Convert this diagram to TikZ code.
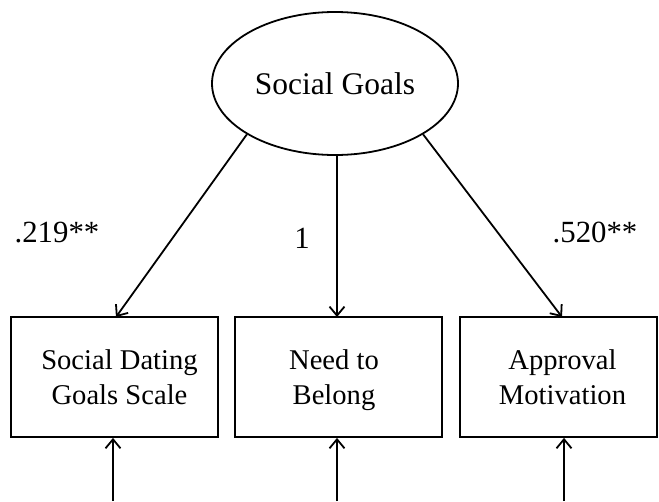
\documentclass[tikz,border=0pt]{standalone}
\usepackage{fontspec}
\setmainfont{Liberation Serif}
\usetikzlibrary{arrows.meta,shapes.geometric}
\begin{document}
\begin{tikzpicture}[x=1pt,y=-1pt,
  lat/.style={draw,line width=1.8pt,ellipse,minimum width=246pt,minimum height=143pt,inner sep=0pt,font=\fontsize{31.5}{36}\selectfont},
  obs/.style={draw,line width=1.8pt,rectangle,inner sep=0pt,align=center,minimum height=120pt,font=\fontsize{28.6}{35}\selectfont},
  lbl/.style={font=\fontsize{30.8}{36}\selectfont,inner sep=0pt,anchor=base},
  arr/.style={line width=1.8pt,-{Straight Barb[length=9pt,width=15pt,line width=1.8pt]}}]
\useasboundingbox (0,0) rectangle (659,501);
\node[lat] (sg) at (335,83.5) {Social Goals};
\node[obs,minimum width=207pt] (b1) at (114.5,377) {\hspace{10pt}Social Dating\\\hspace{10pt}Goals Scale};
\node[obs,minimum width=207pt] (b2) at (338.5,377) {\hspace{-9pt}Need to\\\hspace{-9pt}\raisebox{0pt}[\height][0pt]{Belong}};
\node[obs,minimum width=197pt] (b3) at (558.5,377) {\hspace{8pt}Approval\\\hspace{8pt}Motivation};
\coordinate (e1) at (113,501);
\coordinate (e2) at (337,501);
\coordinate (e3) at (564,501);
\coordinate (t1) at (116,317);
\coordinate (t2) at (337,317);
\coordinate (t3) at (562,317);
\draw[arr] (sg.210) -- (t1);
\draw[arr] (sg.south -| t2) -- (t2);
\draw[arr] (sg.330) -- (t3);
\draw[arr] (e1) -- (b1.south -| e1);
\draw[arr] (e2) -- (b2.south -| e2);
\draw[arr] (e3) -- (b3.south -| e3);
\node[lbl] (l1) at (57,242) {.219**};
\node[lbl] (l2) at (302,248) {1};
\node[lbl] (l3) at (595,242) {.520**};
\end{tikzpicture}
\end{document}
